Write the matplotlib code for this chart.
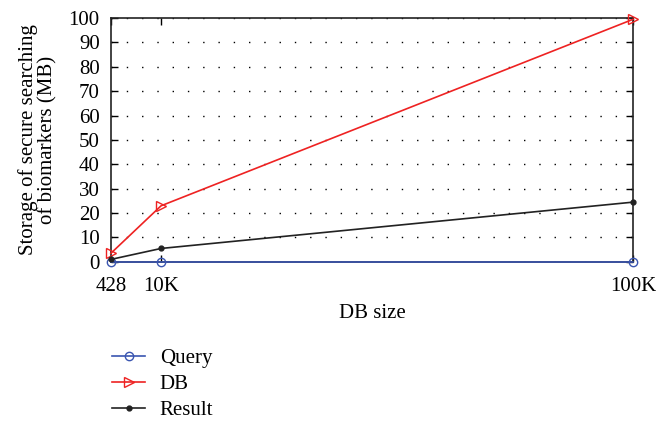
import matplotlib.pyplot as plt

db_size = [428, 10000, 100000]
tick_labels = ['428', '10K', '100K']
query = [0, 0, 0]
db = [3.5, 23, 99.5]
result = [1, 5.5, 24.5]

plt.rcParams['font.family'] = ['Liberation Serif', 'DejaVu Serif']
plt.rcParams['font.size'] = 15

fig = plt.figure(figsize=(6.56, 4.21), dpi=100)
ax = fig.add_axes([0.169, 0.378, 0.796, 0.579])

ax.plot(db_size, query, color='#3a55b0', marker='o', mfc='none', ms=6, lw=1.2, label='Query', clip_on=False, zorder=3)
ax.plot(db_size, db, color='#ee2222', marker='>', mfc='none', ms=7, lw=1.2, label='DB', clip_on=False, zorder=3)
ax.plot(db_size, result, color='#222222', marker='.', ms=7, lw=1.2, label='Result', clip_on=False, zorder=3)

ax.set_xlim(428, 100000)
ax.set_ylim(0, 100)
ax.set_xticks(db_size)
ax.set_xticklabels(tick_labels)
ax.set_yticks(range(0, 101, 10))
ax.tick_params(direction='in', top=True, right=True, length=5, width=1, labelsize=15)
ax.tick_params(axis='y', pad=8)
ax.tick_params(axis='x', pad=11)
ax.yaxis.grid(True, linestyle=(0, (1, 10)), color='black', linewidth=1)
for s in ax.spines.values():
    s.set_linewidth(1.2)
    s.set_color('#222222')

ax.set_xlabel('DB size', labelpad=6)
ax.set_ylabel('Storage of secure searching\nof biomarkers (MB)', labelpad=8, linespacing=1.0)

fig.legend(loc='upper left', bbox_to_anchor=(0.142, 0.216), frameon=False, fontsize=15,
           handlelength=1.6, handletextpad=0.7, labelspacing=0.3)

fig.savefig('out.png', dpi=100)
